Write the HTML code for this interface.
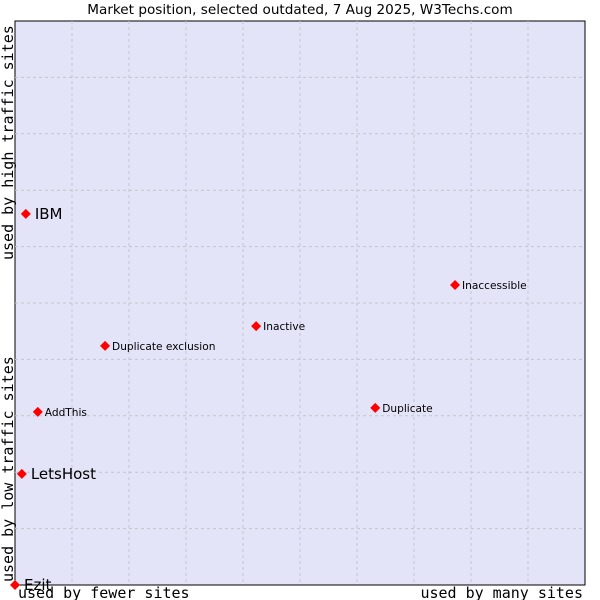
<!DOCTYPE html>
<html><head><meta charset="utf-8"><style>
body{margin:0;background:#fff;}
svg{display:block;font-family:"DejaVu Sans","Liberation Sans",sans-serif;}
</style></head><body>
<svg id="c" width="600" height="600">
<text x="300" y="14" text-anchor="middle" font-size="13.6" fill="#000">Market position, selected outdated, 7 Aug 2025, W3Techs.com</text>
<rect x="15" y="21" width="570" height="564" fill="#e3e4f8" stroke="#000" stroke-width="1"/>
<g id="grid"></g>
<g id="pts"></g>
<text x="18" y="598" font-family="DejaVu Sans Mono,Liberation Mono,monospace" font-size="15">used by fewer sites</text>
<text x="583" y="598" text-anchor="end" font-family="DejaVu Sans Mono,Liberation Mono,monospace" font-size="15">used by many sites</text>
<text transform="translate(13,582) rotate(-90)" font-family="DejaVu Sans Mono,Liberation Mono,monospace" font-size="15">used by low traffic sites</text>
<text transform="translate(13,260) rotate(-90)" font-family="DejaVu Sans Mono,Liberation Mono,monospace" font-size="15">used by high traffic sites</text>
</svg>
<script>
const names=["IBM","Inaccessible","Inactive","Duplicate exclusion","AddThis","Duplicate","LetsHost","Ezit"];
const xVals=[0.019,0.772,0.423,0.158,0.040,0.632,0.012,0.0];
const yVals=[0.658,0.532,0.459,0.424,0.307,0.314,0.197,0.0];
const bigLabel=[true,false,false,false,false,false,true,true];
const X0=15,X1=585,Y0=585,Y1=21;
const sx=v=>X0+v*(X1-X0), sy=v=>Y0-v*(Y0-Y1);
const ns="http://www.w3.org/2000/svg";
const g=document.getElementById('grid'), p=document.getElementById('pts');
for(let i=1;i<10;i++){
 const lv=document.createElementNS(ns,'line');
 
 
 lv.setAttribute('x1',sx(i/10));lv.setAttribute('x2',sx(i/10));lv.setAttribute('y1',Y1);lv.setAttribute('y2',Y0);
 lv.setAttribute('stroke','#c4c4cc');lv.setAttribute('stroke-dasharray','3,3');g.appendChild(lv);
 const lh=document.createElementNS(ns,'line');
 
 
 lh.setAttribute('y1',sy(i/10));lh.setAttribute('y2',sy(i/10));lh.setAttribute('x1',X0);lh.setAttribute('x2',X1);
 lh.setAttribute('stroke','#c4c4cc');lh.setAttribute('stroke-dasharray','3,3');g.appendChild(lh);
}
names.forEach((n,i)=>{
 const x=sx(xVals[i]),y=sy(yVals[i]);
 const d=document.createElementNS(ns,'path');
 
 
 d.setAttribute('d',`M${x} ${y-5}L${x+5} ${y}L${x} ${y+5}L${x-5} ${y}Z`);
 d.setAttribute('fill','#f00');p.appendChild(d);
 const t=document.createElementNS(ns,'text');
 
 
 t.setAttribute('x',x+(bigLabel[i]?9:7));t.setAttribute('y',y+(bigLabel[i]?5:4));
 t.setAttribute('font-size',bigLabel[i]?15:10.6);t.textContent=n;p.appendChild(t);
});
</script>
</body></html>
